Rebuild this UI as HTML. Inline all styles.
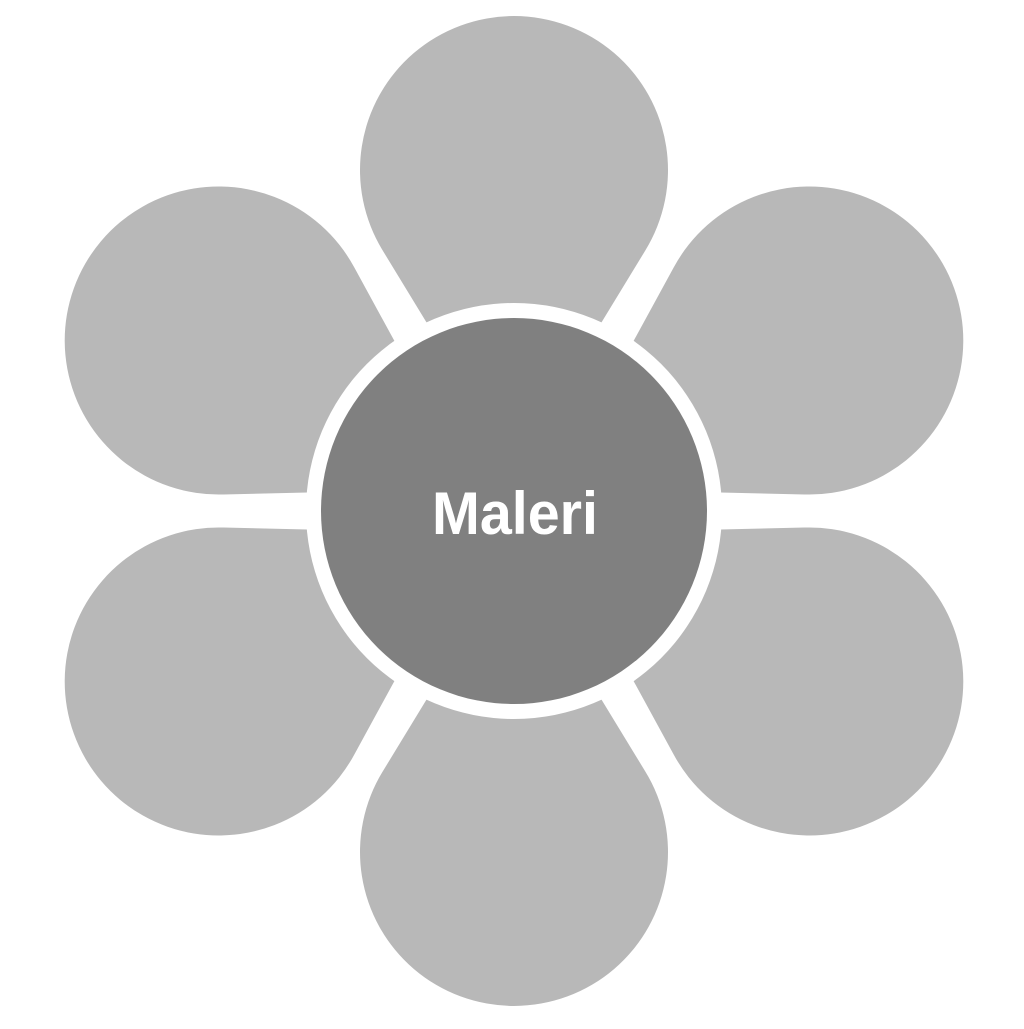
<!DOCTYPE html>
<html><head><style>html,body{margin:0;padding:0;background:#fff;}</style></head>
<body>
<svg width="1024" height="1024" viewBox="0 0 1024 1024" xmlns="http://www.w3.org/2000/svg">
<g transform="translate(514,511)" fill="#b8b8b8">
<path id="p" d="M0 -45 L131 -260 A154 154 0 1 0 -131 -260 Z"/>
<use href="#p" transform="rotate(60)"/>
<use href="#p" transform="rotate(120)"/>
<use href="#p" transform="rotate(180)"/>
<use href="#p" transform="rotate(240)"/>
<use href="#p" transform="rotate(300)"/>
<circle r="208" fill="#fff"/>
<circle r="193" fill="#808080"/>
</g>
<text x="515" y="534" text-anchor="middle" font-family="Liberation Sans, sans-serif" font-weight="bold" font-size="60" fill="#fff" textLength="166" lengthAdjust="spacingAndGlyphs">Maleri</text>
</svg>
</body></html>
